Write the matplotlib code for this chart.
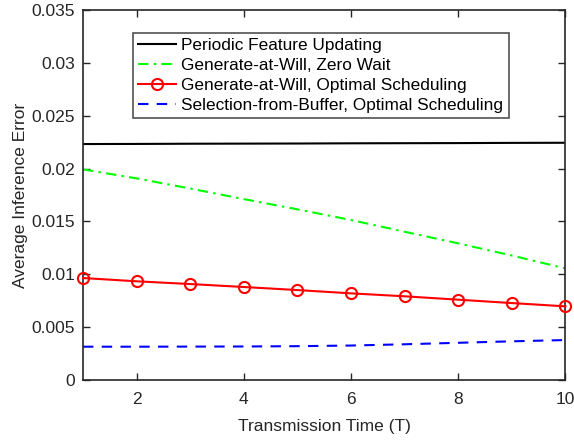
import matplotlib
matplotlib.use("Agg")
import matplotlib.pyplot as plt

plt.rcParams['font.family'] = ['Liberation Sans', 'DejaVu Sans']

T = [1, 2, 3, 4, 5, 6, 7, 8, 9, 10]
periodic = [0.02233, 0.02234, 0.02236, 0.02237, 0.02238, 0.02240, 0.02241, 0.02242, 0.02244, 0.02245]
gaw_zero = [0.01993, 0.01908, 0.01812, 0.01712, 0.01615, 0.01514, 0.01403, 0.01293, 0.01178, 0.01056]
gaw_opt = [0.00965, 0.00934, 0.00908, 0.00880, 0.00851, 0.00820, 0.00792, 0.00760, 0.00728, 0.00697]
sfb_opt = [0.00315, 0.00315, 0.00316, 0.00317, 0.00320, 0.00326, 0.00338, 0.00352, 0.00366, 0.00378]

labels = ["Periodic Feature Updating",
          "Generate-at-Will, Zero Wait",
          "Generate-at-Will, Optimal Scheduling",
          "Selection-from-Buffer, Optimal Scheduling"]

fig = plt.figure(figsize=(5.74, 4.42), dpi=100)
ax = fig.add_axes([0.1446, 0.1403, 0.8404, 0.8367])

dark = "#262626"
ax.plot(T, periodic, color="black", lw=1.5, label=labels[0])
ax.plot(T, gaw_zero, color="#00ff00", lw=1.5, ls=(0, (5, 2.5, 1.2, 2.5)), label=labels[1])
ax.plot(T, gaw_opt, color="red", lw=1.5, marker="o", ms=8, mfc="none", mew=1.5,
        label=labels[2], clip_on=False, zorder=3)
ax.plot(T, sfb_opt, color="blue", lw=1.5, ls=(0, (5, 4)), label=labels[3])

ax.set_xlim(1, 10)
ax.set_ylim(0, 0.035)
ax.set_xticks([2, 4, 6, 8, 10])
ax.set_yticks([0, 0.005, 0.01, 0.015, 0.02, 0.025, 0.03, 0.035])
ax.set_yticklabels(["0", "0.005", "0.01", "0.015", "0.02", "0.025", "0.03", "0.035"])
ax.tick_params(direction="in", top=True, right=True, length=5, width=1,
               colors=dark, labelsize=12.5)
ax.tick_params(axis="x", pad=9)
ax.tick_params(axis="y", pad=5.5)
for s in ax.spines.values():
    s.set_color(dark)
    s.set_linewidth(1.2)
ax.set_xlabel("Transmission Time (T)", fontsize=12.5, color=dark, labelpad=8)
ax.set_ylabel("Average Inference Error", fontsize=12.5, color=dark, labelpad=3)

leg = ax.legend(loc="upper left", bbox_to_anchor=(0.104, 0.938), borderaxespad=0,
                fontsize=12.4, frameon=True, fancybox=False, handlelength=2.2,
                handletextpad=0.3, labelspacing=0.28, borderpad=0.3)
leg.get_frame().set_edgecolor(dark)
leg.get_frame().set_linewidth(1.2)

fig.savefig("out.png", dpi=100)
